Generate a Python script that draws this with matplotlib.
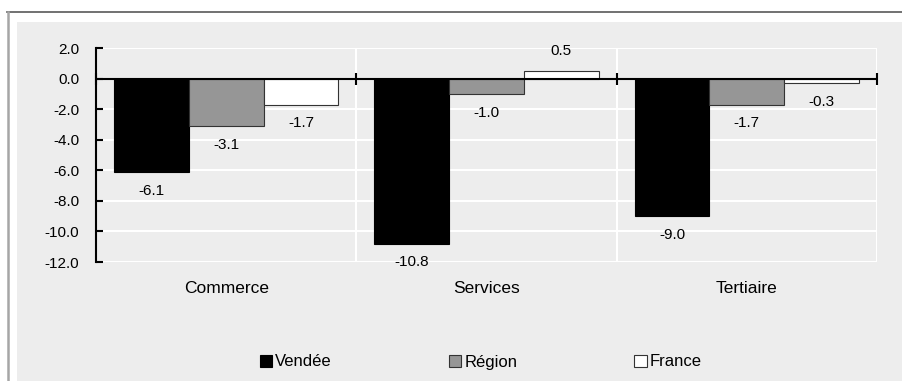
import matplotlib.pyplot as plt
from matplotlib.patches import Rectangle
from matplotlib.lines import Line2D
import numpy as np

plt.rcParams['font.family'] = ['Liberation Sans', 'DejaVu Sans']

categories = ["Commerce", "Services", "Tertiaire"]
series = ["Vendée", "Région", "France"]
vendee = [-6.1, -10.8, -9.0]
region = [-3.1, -1.0, -1.7]
france = [-1.7, 0.5, -0.3]
yticks = [2.0, 0.0, -2.0, -4.0, -6.0, -8.0, -10.0, -12.0]

colors = ["#000000", "#969696", "#ffffff"]
edges = ["#000000", "#333333", "#333333"]

W, H = 902, 381
fig = plt.figure(figsize=(W / 100, H / 100), dpi=100)
fig.patch.set_facecolor("white")

# gray panel and frame lines
fig.patches.append(Rectangle((17 / W, 0), 1, 1 - 22 / H, transform=fig.transFigure,
                             facecolor="#ededed", edgecolor="none", zorder=-5))
fig.lines.append(Line2D([7 / W, 1], [1 - 12 / H, 1 - 12 / H], transform=fig.transFigure,
                        color="#595959", lw=1.2, zorder=-4))
fig.lines.append(Line2D([8 / W, 8 / W], [0, 1 - 12 / H], transform=fig.transFigure,
                        color="#a6a6a6", lw=1.8, zorder=-4))

ax = fig.add_axes([96 / W, 1 - 262 / H, (877 - 96) / W, (262 - 48) / H])
ax.set_facecolor("#ededed")

x = np.arange(len(categories))
width = 0.287
data = [vendee, region, france]
for i, vals in enumerate(data):
    pos = x + (i - 1) * width
    ax.bar(pos, vals, width, color=colors[i], edgecolor=edges[i], linewidth=0.8,
           label=series[i], zorder=3)
    for px, v in zip(pos, vals):
        if v < 0:
            ax.annotate(f"{v:.1f}", (px, v), xytext=(0, -13.5), textcoords="offset points",
                        ha="center", va="center", fontsize=11)
        else:
            ax.annotate(f"{v:.1f}", (px, v), xytext=(0, 14.5), textcoords="offset points",
                        ha="center", va="center", fontsize=11)

ax.set_xlim(-0.5, len(categories) - 0.5)
ax.set_ylim(-12, 2)
ax.set_yticks(yticks)
ax.set_yticklabels([f"{t:.1f}" for t in yticks], fontsize=11)
ax.tick_params(axis="y", direction="in", length=5, width=1.5, pad=12)

ax.set_xticks(x)
ax.set_xticklabels(categories, fontsize=12.5)
ax.tick_params(axis="x", length=0, pad=14)
ax.set_xticks(np.arange(len(categories) + 1) - 0.5, minor=True)
ax.tick_params(axis="x", which="minor", length=0)

ax.grid(True, axis="y", color="white", lw=1.5, zorder=0)
ax.grid(True, axis="x", which="minor", color="white", lw=1.5, zorder=0)
ax.set_axisbelow(True)

for s in ["top", "right", "bottom"]:
    ax.spines[s].set_visible(False)
ax.spines["left"].set_linewidth(1.5)

# zero line with category separator ticks
ax.axhline(0, color="black", lw=1.5, zorder=4)
bounds = np.arange(len(categories) + 1) - 0.5
ax.plot(bounds, np.zeros_like(bounds), ls="none", marker="|", markersize=9,
        markeredgewidth=1.5, color="black", zorder=5, clip_on=False)

leg = fig.legend(loc="center", bbox_to_anchor=(0.533, 1 - 362 / H), ncol=3, frameon=False,
                 fontsize=12, handlelength=0.75, handleheight=0.75, handletextpad=0.2,
                 columnspacing=7.0)

fig.savefig("out.png", dpi=100)
